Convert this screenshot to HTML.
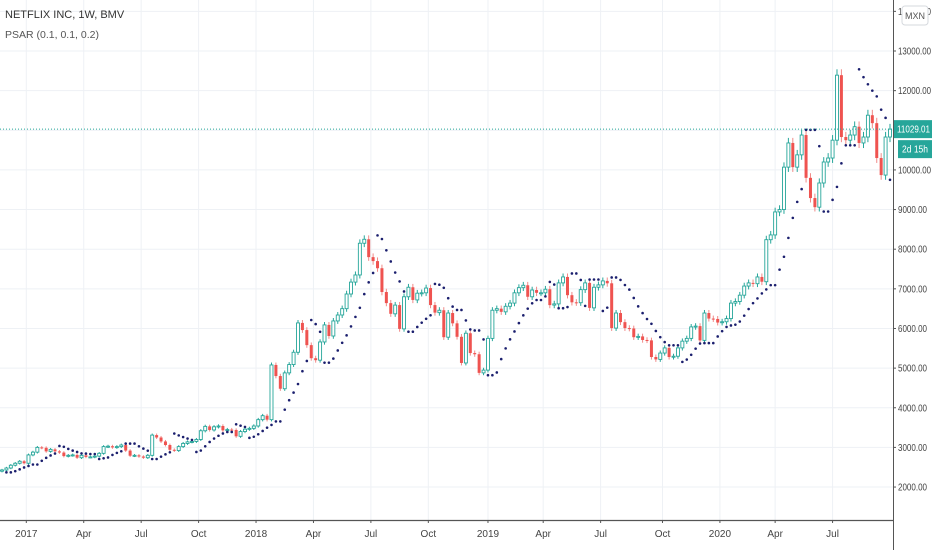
<!DOCTYPE html>
<html><head><meta charset="utf-8"><style>
html,body{margin:0;padding:0;background:#fff;}
svg{display:block;font-family:"Liberation Sans",sans-serif;}
</style></head><body>
<svg id="chart" width="932" height="550" viewBox="0 0 932 550" xmlns="http://www.w3.org/2000/svg">
<rect x="0" y="0" width="932" height="550" fill="#fff"/>
<g id="grid"></g>
<g id="candles"></g>
<g id="psar"></g>
<g id="axes"></g>
<text x="5" y="18" font-size="11" fill="#333">NETFLIX INC, 1W, BMV</text>
<text x="5" y="38" font-size="10.5" fill="#555">PSAR (0.1, 0.1, 0.2)</text>
</svg>
<script>
const closes = [2430,2480,2550,2600,2650,2600,2810,2880,3000,2990,2900,2950,2900,2870,2780,2800,2810,2740,2800,2760,2760,2780,2850,3020,3030,3000,3020,3060,2920,2790,2800,2770,2740,2800,3310,3250,3150,3060,2940,2920,3020,3100,3140,3150,3200,3420,3530,3440,3520,3540,3430,3450,3440,3280,3400,3460,3480,3540,3700,3800,3700,5080,4800,4480,4880,5090,5400,6140,5960,5580,5250,5200,5660,6090,5810,6190,6340,6500,6870,7170,7350,8150,8250,7800,7700,7520,6920,6640,6370,6590,5990,6800,7040,6720,6890,6900,7020,6590,6400,6460,5780,6390,6130,5790,5130,5880,5380,5350,4880,4950,5750,6460,6500,6420,6560,6640,6900,7030,7090,6800,6970,6900,6900,6990,6590,6620,7150,7300,6840,6660,6650,6980,7150,6520,7040,7100,7200,7140,6010,6390,6160,6010,6000,5780,5800,5710,5700,5280,5220,5380,5510,5280,5300,5510,5680,5750,6040,6060,5700,6390,6250,6240,6150,6170,6250,6640,6680,6840,7070,7150,7130,7300,7180,8240,8360,8940,9000,10070,10680,10070,10380,10880,9800,9290,9060,9670,10200,10300,10750,12390,10830,10750,10880,11090,10680,10830,11380,11180,10300,9870,10830,11029];
const firstOpen = 2400;
const priceTicks = [2000,3000,4000,5000,6000,7000,8000,9000,10000,11000,12000,13000,14000];
const timeLabels = ["2017","Apr","Jul","Oct","2018","Apr","Jul","Oct","2019","Apr","Jul","Oct","2020","Apr","Jul"];
const timeLabelIdx = [5.5,18.5,31.5,44.5,57.5,70.5,83.5,96.5,110,122.5,135.5,149.5,162.5,175,188];
const lastPrice = 11029.01;

const NS="http://www.w3.org/2000/svg";
const yOf = v => 51 + (13000 - v) * 0.03964;
const xOf = i => 2 + i * (888 / (closes.length - 1));
function mk(tag, attrs, parent){const e=document.createElementNS(NS,tag);for(const k in attrs)e.setAttribute(k,attrs[k]);parent.appendChild(e);return e;}
const grid=document.getElementById('grid'),cg=document.getElementById('candles'),pg=document.getElementById('psar'),ax=document.getElementById('axes');

priceTicks.forEach(v=>{
  const y=yOf(v);
  const l=mk('line',{x1:0,x2:893,y1:y,y2:y,stroke:'#eef1f5','stroke-width':1},grid);
  
  
  const t=mk('text',{x:898,y:y+3.5,'font-size':10,fill:'#444',textLength:v>=10000?33:29,lengthAdjust:'spacingAndGlyphs'},ax);
  t.textContent=v.toFixed(2);
  
  
  const tk=mk('line',{x1:893,x2:896,y1:y,y2:y,stroke:'#555'},ax);
  
  
});
timeLabels.forEach((lab,k)=>{
  const x=xOf(timeLabelIdx[k]);
  const l=mk('line',{x1:x,x2:x,y1:0,y2:520,stroke:'#eef1f5','stroke-width':1},grid);
  
  
  const t=mk('text',{x:x,y:537,'font-size':10,fill:'#444','text-anchor':'middle'},ax);
  t.textContent=lab;
  
  
  const tk=mk('line',{x1:x,x2:x,y1:520,y2:523,stroke:'#555'},ax);
  
  
});

const opens=closes.map((c,i)=>i===0?firstOpen:closes[i-1]);
const highs=closes.map((c,i)=>Math.max(c,opens[i])*1.012);
const lows=closes.map((c,i)=>Math.min(c,opens[i])*0.988);
closes.forEach((c,i)=>{
  const o=opens[i],x=xOf(i),up=c>=o,col=up?'#26a69a':'#ef5350';
  const w=mk('line',{x1:x,x2:x,y1:yOf(highs[i]),y2:yOf(lows[i]),stroke:up?'#26a69a':'#f08a88','stroke-width':1},cg);
  
  
  const top=yOf(Math.max(o,c)),bot=yOf(Math.min(o,c));
  const r=mk('rect',{x:x-1.5,y:top,width:3,height:Math.max(1,bot-top),fill:up?'#fff':col,stroke:col,'stroke-width':up?0.9:0},cg);
  
  
});

(function(){
  let bull=true,af=0.1,ep=highs[0],sar=lows[0];
  for(let i=1;i<closes.length;i++){
    sar=sar+af*(ep-sar);
    if(bull){
      sar=Math.min(sar,lows[i-1],i>1?lows[i-2]:lows[i-1]);
      if(lows[i]<sar){bull=false;sar=ep;ep=lows[i];af=0.1;}
      else if(highs[i]>ep){ep=highs[i];af=Math.min(0.2,af+0.1);}
    }else{
      sar=Math.max(sar,highs[i-1],i>1?highs[i-2]:highs[i-1]);
      if(highs[i]>sar){bull=true;sar=ep;ep=highs[i];af=0.1;}
      else if(lows[i]<ep){ep=lows[i];af=Math.min(0.2,af+0.1);}
    }
    const d=mk('circle',{cx:xOf(i),cy:yOf(sar),r:1.3,fill:'#1b1f6e'},pg);
    
    
  }
})();

const yl=mk('line',{x1:893.5,x2:893.5,y1:0,y2:550,stroke:'#555','stroke-width':1},ax);


const xl=mk('line',{x1:0,x2:893,y1:520.5,y2:520.5,stroke:'#555','stroke-width':1.2},ax);



const ly=yOf(lastPrice);
const pl=mk('line',{x1:0,x2:893,y1:ly,y2:ly,stroke:'#26a69a','stroke-width':1,'stroke-dasharray':'1,2'},ax);


const pb=mk('rect',{x:894,y:ly-9,width:38,height:18,fill:'#26a69a'},ax);


const pt=mk('text',{x:897,y:ly+3.5,'font-size':10,fill:'#fff',textLength:33,lengthAdjust:'spacingAndGlyphs'},ax);
pt.textContent=lastPrice.toFixed(2);


const cb=mk('rect',{x:898,y:ly+11,width:34,height:18,fill:'#26a69a'},ax);


const ct=mk('text',{x:902,y:ly+23.5,'font-size':10,fill:'#fff',textLength:26,lengthAdjust:'spacingAndGlyphs'},ax);
ct.textContent='2d 15h';


const mb=mk('rect',{x:902,y:6,width:26,height:19,rx:3,fill:'#fff',stroke:'#d6d9de'},ax);


const mt=mk('text',{x:915,y:19,'font-size':9,fill:'#555','text-anchor':'middle'},ax);
mt.textContent='MXN';


</script>
</body></html>
